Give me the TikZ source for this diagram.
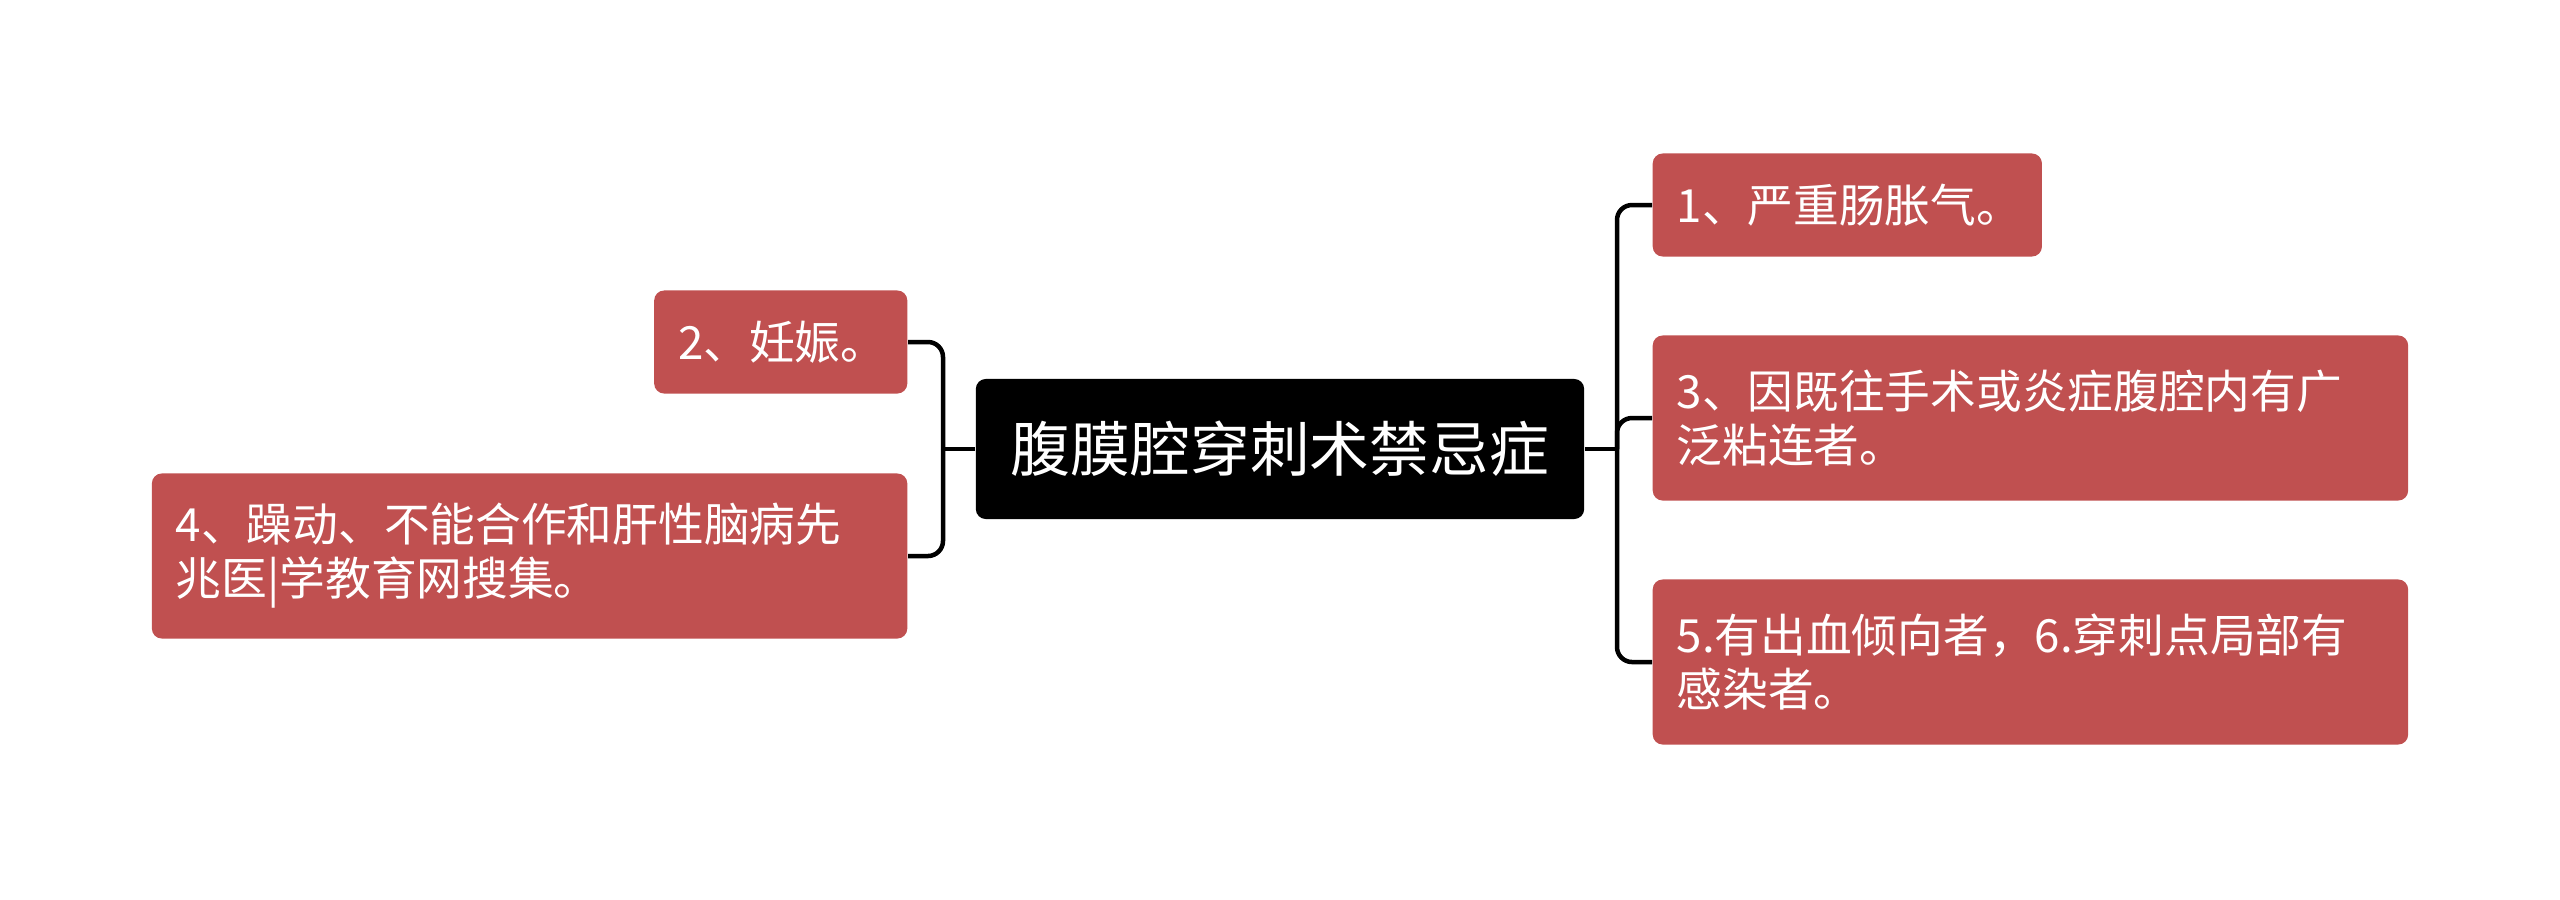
\documentclass[tikz,border=0pt]{standalone}
\usepackage{fontspec}
\setmainfont{Noto Sans CJK SC}
\usetikzlibrary{calc}

\definecolor{leafred}{RGB}{192,80,80}

\begin{document}
\begin{tikzpicture}[x=0.01cm, y=-0.01cm,
	core/.style={fill=black, text=white, rounded corners=0.1cm, minimum width=6.08cm, minimum height=1.4cm, inner sep=0pt, font=\fontsize{17}{20}\selectfont},
	leaf/.style={fill=leafred, text=white, rounded corners=0.1cm, align=left, inner xsep=0.24cm, inner ysep=0pt, font=\fontsize{13}{15.4}\selectfont},
	link/.style={line width=0.045cm, rounded corners=0.15cm}]
	\useasboundingbox (0,0) rectangle (2560,899);
	\node[core] (C) at (1280,449) {腹膜腔穿刺术禁忌症};
	\coordinate (R) at (1617,449);
	\coordinate (L) at (943,449);
	% right branch
	\node[leaf, anchor=west, text width=3.41cm, minimum height=1.03cm] (N1) at (1652,205) {1、严重肠胀气。};
	\node[leaf, anchor=west, text width=7.07cm, minimum height=1.65cm] (N3) at (1652,418) {3、因既往手术或炎症腹腔内有广\\泛粘连者。};
	\node[leaf, anchor=west, text width=7.07cm, minimum height=1.65cm] (N5) at (1652,662) {5.有出血倾向者，6.穿刺点局部有\\感染者。};
	% left branch
	\node[leaf, anchor=east, text width=2.05cm, minimum height=1.03cm] (N2) at (908,342) {2、妊娠。};
	\node[leaf, anchor=east, text width=7.07cm, minimum height=1.65cm] (N4) at (908,556) {4、躁动、不能合作和肝性脑病先\\兆医|学教育网搜集。};
	\draw[link] (C.east) -- (R);
	\draw[link] (C.west) -- (L);
	\foreach \n in {N1,N3,N5}
		\draw[link] (R) |- (\n.west);
	\foreach \n in {N2,N4}
		\draw[link] (L) |- (\n.east);
\end{tikzpicture}
\end{document}
